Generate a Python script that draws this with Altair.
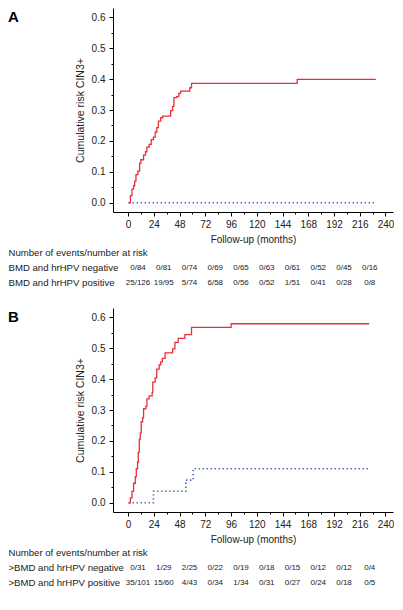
import altair as alt
import pandas as pd

FONT = "Liberation Sans"
RED = "#e8303a"
BLUE = "#4a62c4"
XDOM = [-14, 247]
YDOM = [-0.03, 0.63]

# ---- Panel A: cumulative risk curves (months, risk)
a_pos_time = [0.5, 2.2, 3.7, 5.2, 6.2, 7.4, 9.2, 10.8, 12.0, 14.5, 16.3, 17.6, 19.7, 21.6, 23.7,
              25.3, 26.8, 28.3, 30.5, 32.3, 39.7, 41.6, 42.8, 45.3, 47.4, 49.0, 57.6, 59.2, 157.7, 231.0]
a_pos_risk = [0.0, 0.023, 0.044, 0.055, 0.070, 0.091, 0.102, 0.128, 0.139, 0.154, 0.165, 0.180, 0.189,
              0.204, 0.212, 0.228, 0.243, 0.264, 0.275, 0.280, 0.298, 0.312, 0.340, 0.343, 0.354,
              0.361, 0.372, 0.386, 0.399, 0.399]
a_neg_time = [0.5, 231.0]
a_neg_risk = [0.0, 0.0]

# ---- Panel B
b_pos_time = [0.5, 2.2, 3.7, 5.2, 6.8, 7.7, 8.9, 9.6, 10.5, 11.4, 12.3, 13.6, 14.5, 16.6, 17.6, 19.7,
              22.5, 23.1, 25.3, 26.8, 29.0, 30.5, 32.0, 34.5, 41.6, 43.7, 46.8, 53.0, 59.2, 96.1, 224.9]
b_pos_risk = [0.0, 0.016, 0.037, 0.063, 0.084, 0.110, 0.131, 0.163, 0.205, 0.226, 0.262, 0.275, 0.304,
              0.312, 0.336, 0.346, 0.357, 0.390, 0.404, 0.432, 0.446, 0.456, 0.467, 0.485, 0.498,
              0.519, 0.532, 0.544, 0.567, 0.579, 0.579]
b_neg_time = [0.5, 23.7, 53.9, 60.7, 224.9]
b_neg_risk = [0.0, 0.037, 0.073, 0.110, 0.110]

# ---- Risk tables
risk_times = [0, 24, 48, 72, 96, 120, 144, 168, 192, 216]
a_neg_atrisk = ["0/84", "0/81", "0/74", "0/69", "0/65", "0/63", "0/61", "0/52", "0/45", "0/16"]
a_pos_atrisk = ["25/126", "19/95", "5/74", "6/58", "0/56", "0/52", "1/51", "0/41", "0/28", "0/8"]
b_neg_atrisk = ["0/31", "1/29", "2/25", "0/22", "0/19", "0/18", "0/15", "0/12", "0/12", "0/4"]
b_pos_atrisk = ["35/101", "15/60", "4/43", "0/34", "1/34", "0/31", "0/27", "0/24", "0/18", "0/5"]

header = "Number of events/number at risk"
a_rows = ["BMD and hrHPV negative", "BMD and hrHPV positive"]
b_rows = [">BMD and hrHPV negative", ">BMD and hrHPV positive"]

x_ticks = list(range(0, 241, 12))
y_ticks = [round(i * 0.05, 2) for i in range(13)]

W, H = 280, 204


def km_plot(pos_t, pos_r, neg_t, neg_r):
    df_pos = pd.DataFrame({"t": pos_t, "risk": pos_r})
    df_neg = pd.DataFrame({"t": neg_t, "risk": neg_r})
    x = alt.X(
        "t:Q",
        scale=alt.Scale(domain=XDOM, nice=False, zero=False),
        axis=alt.Axis(
            values=x_ticks,
            labelExpr="datum.value % 24 === 0 ? datum.label : ''",
            tickSize={"condition": {"test": "datum.value % 24 === 0", "value": 4}, "value": 2},
            title="Follow-up (months)",
            titleFontWeight="normal",
            titleFontSize=10,
            titlePadding=5,
            labelFontSize=10,
            labelPadding=3,
            labelFlush=False,
            grid=False,
            domainColor="black",
            tickColor="black",
            labelColor="#222",
            titleColor="#222",
        ),
    )
    y = alt.Y(
        "risk:Q",
        scale=alt.Scale(domain=YDOM, nice=False, zero=False),
        axis=alt.Axis(
            values=y_ticks,
            labelExpr="round(datum.value * 100) % 10 === 0 ? format(datum.value, '.1f') : ''",
            tickSize={"condition": {"test": "round(datum.value * 100) % 10 === 0", "value": 4}, "value": 2},
            title="Cumulative risk CIN3+",
            titleFontWeight="normal",
            titleFontSize=10.5,
            titlePadding=6,
            labelFontSize=10,
            labelPadding=4,
            labelFlush=False,
            grid=False,
            domainColor="black",
            tickColor="black",
            labelColor="#222",
            titleColor="#222",
        ),
    )
    neg = alt.Chart(df_neg).mark_line(
        interpolate="step-after", color=BLUE, strokeWidth=1.6, strokeDash=[1.4, 2.6]
    ).encode(x=x, y=y)
    pos = alt.Chart(df_pos).mark_line(
        interpolate="step-after", color=RED, strokeWidth=1.3
    ).encode(x=x, y=y)
    return alt.layer(neg, pos).properties(width=W, height=H)


def risk_table(rows, neg, pos):
    order = [header] + rows
    df = pd.DataFrame({
        "row": [rows[0]] * len(risk_times) + [rows[1]] * len(risk_times),
        "t": risk_times + risk_times,
        "txt": neg + pos,
    })
    return alt.Chart(df).mark_text(fontSize=8, dx=10, font=FONT, color="#222").encode(
        x=alt.X("t:Q", scale=alt.Scale(domain=XDOM, nice=False, zero=False), axis=None),
        y=alt.Y(
            "row:N",
            sort=order,
            scale=alt.Scale(domain=order, padding=0.5),
            axis=alt.Axis(
                title=None, domain=False, ticks=False, grid=False,
                labelAlign="left", labelPadding=105, labelFontSize=9.6,
                labelLimit=300, labelFont=FONT, labelColor="#222",
            ),
        ),
        text="txt:N",
    ).properties(width=W, height=45)


def panel(letter, plot, table):
    return alt.vconcat(
        plot, table, spacing=1,
        title=alt.TitleParams(letter, anchor="start", fontSize=15, fontWeight="bold",
                              font=FONT, color="black", offset=-17, frame="bounds"),
    )


panelA = panel("A", km_plot(a_pos_time, a_pos_risk, a_neg_time, a_neg_risk),
               risk_table(a_rows, a_neg_atrisk, a_pos_atrisk))
panelB = panel("B", km_plot(b_pos_time, b_pos_risk, b_neg_time, b_neg_risk),
               risk_table(b_rows, b_neg_atrisk, b_pos_atrisk))

chart = alt.vconcat(panelA, panelB, spacing=18).properties(padding=0).configure_view(
    stroke=None
).configure_axis(labelFont=FONT, titleFont=FONT)

chart.save("out.html", embed_options={"renderer": "svg", "actions": False})
